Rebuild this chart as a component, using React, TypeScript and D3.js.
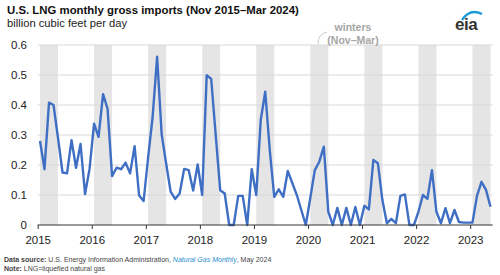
import React from "react";
import * as d3 from "d3";

const W = 500;
const H = 275;

// monthly gross LNG imports, Nov 2015 – Mar 2024 (Bcf/d)
const imports: number[] = [
  0.28, 0.186, 0.408, 0.4, 0.29, 0.175, 0.172, 0.283, 0.191, 0.27, 0.103, 0.187,
  0.338, 0.294, 0.436, 0.387, 0.163, 0.191, 0.186, 0.208, 0.172, 0.263, 0.098, 0.08,
  0.225, 0.36, 0.561, 0.303, 0.205, 0.111, 0.087, 0.105, 0.187, 0.183, 0.115, 0.202,
  0.1, 0.499, 0.487, 0.3, 0.116, 0.105, 0.0, 0.0, 0.097, 0.097, 0.0, 0.186,
  0.1, 0.35, 0.444, 0.25, 0.094, 0.119, 0.094, 0.18, 0.14, 0.1, 0.05, 0.0,
  0.09, 0.183, 0.211, 0.261, 0.044, 0.0, 0.057, 0.0, 0.057, 0.0, 0.06, 0.0,
  0.064, 0.052, 0.217, 0.206, 0.083, 0.006, 0.02, 0.006, 0.097, 0.102, 0.0, 0.0,
  0.044, 0.1, 0.087, 0.183, 0.044, 0.006, 0.056, 0.006, 0.05, 0.01, 0.008, 0.008,
  0.008, 0.097, 0.144, 0.117, 0.061,
];

const yearLabels: string[] = ["2015", "2016", "2017", "2018", "2019", "2020", "2021", "2022", "2023"];
const yTicks: number[] = [0, 0.1, 0.2, 0.3, 0.4, 0.5, 0.6];
// winter bands: month index of each November and the following March
const winterStarts: number[] = [0, 12, 24, 36, 48, 60, 72, 84, 96];
const winterLength = 4;
const tickOffset = -0.4;

const FONT = "'Liberation Sans', Arial, sans-serif";

export default function App() {
  const x = d3.scaleLinear().domain([0, 100]).range([40, 490.5]);
  const y = d3.scaleLinear().domain([0, 0.6]).range([225, 45]);
  const left = 37.7;
  const right = 492.7;

  const line = d3
    .line<number>()
    .x((_, i) => x(i))
    .y((d) => y(d));

  return (
    <svg
      width={W}
      height={H}
      style={{ position: "absolute", left: 0, top: 0, background: "#fff" }}
      fontFamily={FONT}
    >
      <rect x={0} y={0} width={W} height={H} fill="#fff" />
      {/* winter bands */}
      {winterStarts.map((s) => (
        <rect
          key={s}
          x={x(s)}
          y={y(0.6)}
          width={x(s + winterLength) - x(s)}
          height={y(0) - y(0.6)}
          fill="#e5e5e5"
        />
      ))}
      {/* gridlines */}
      {yTicks.slice(1).map((t) => (
        <line key={t} x1={left} x2={right} y1={y(t)} y2={y(t)} stroke="#d9d9d9" strokeWidth={1} />
      ))}
      {/* y labels */}
      {yTicks.map((t) => (
        <text
          key={"yl" + t}
          x={27}
          y={y(t)}
          dy="0.35em"
          textAnchor="end"
          fontSize={11.5}
          fill="#222"
        >
          {t === 0 ? "0" : d3.format(".1f")(t)}
        </text>
      ))}
      {/* data line */}
      <path
        d={line(imports) || ""}
        fill="none"
        stroke="#3e6fc4"
        strokeWidth={2.4}
        strokeLinejoin="round"
      />
      {/* x axis */}
      <line x1={left} x2={right} y1={y(0)} y2={y(0)} stroke="#333" strokeWidth={1} />
      {yearLabels.map((lab, k) => {
        const xv = x(k * 12 + tickOffset);
        return (
          <g key={lab}>
            <line x1={xv} x2={xv} y1={y(0)} y2={y(0) + 4} stroke="#333" strokeWidth={1} />
            <text x={xv} y={244} textAnchor="middle" fontSize={11.5} fill="#222">
              {lab}
            </text>
          </g>
        );
      })}
      {/* title */}
      <text x={7} y={14} fontSize={11.4} fontWeight="bold" fill="#111">
        U.S. LNG monthly gross imports (Nov 2015–Mar 2024)
      </text>
      <text x={7} y={27} fontSize={11.2} fill="#222">
        billion cubic feet per day
      </text>
      {/* winter annotation */}
      <text x={353} y={31} textAnchor="middle" fontSize={10.5} fontWeight="bold" fill="#a6a6a6">
        winters
      </text>
      <text x={353} y={44} textAnchor="middle" fontSize={10.5} fontWeight="bold" fill="#a6a6a6">
        (Nov–Mar)
      </text>
      <path d="M318,44 Q318,34 327,32" fill="none" stroke="#c8c8c8" strokeWidth={1} />
      {/* eia logo */}
      <text x={455} y={30} fontSize={17} fontWeight="bold" fill="#333" letterSpacing={-0.5}>
        eia
      </text>
      <path d="M462,20 Q470,8 482,14" fill="none" stroke="#1a9ad6" strokeWidth={2.2} />
      {/* footer */}
      <text x={4} y={262} fontSize={7} fill="#444">
        <tspan fontWeight="bold">Data source:</tspan>
        <tspan> U.S. Energy Information Administration, </tspan>
        <tspan fontStyle="italic" fill="#2a8fcf">Natural Gas Monthly</tspan>
        <tspan>, May 2024</tspan>
      </text>
      <text x={4} y={271} fontSize={7} fill="#444">
        <tspan fontWeight="bold">Note:</tspan>
        <tspan> LNG=liquefied natural gas</tspan>
      </text>
    </svg>
  );
}
